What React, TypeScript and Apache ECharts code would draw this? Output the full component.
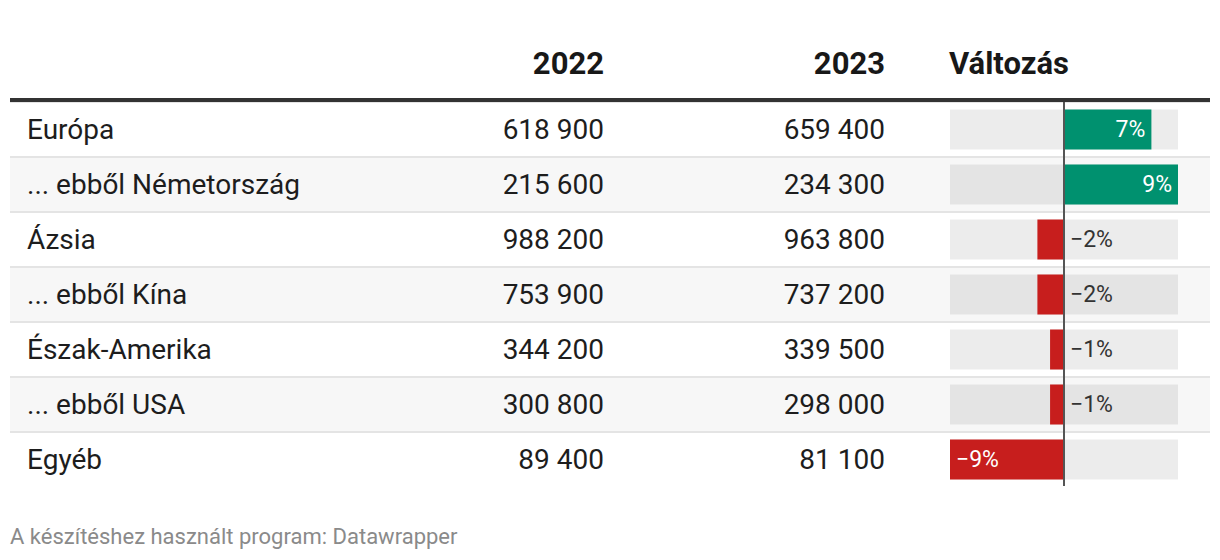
import React, { useEffect, useRef } from "react";
import * as echarts from "echarts";

const rowNames = [
  "Európa",
  "... ebből Németország",
  "Ázsia",
  "... ebből Kína",
  "Észak-Amerika",
  "... ebből USA",
  "Egyéb",
];
const values2022 = [618900, 215600, 988200, 753900, 344200, 300800, 89400];
const values2023 = [659400, 234300, 963800, 737200, 339500, 298000, 81100];
const changePct = [6.9, 9.0, -2.1, -2.1, -1.1, -1.1, -9.0];
const columnHeaders = ["2022", "2023", "Változás"];
const footerText = "A készítéshez használt program: Datawrapper";

const FONT = "Roboto, 'Noto Sans', sans-serif";
const TOP = 102;
const HEIGHT = 385;

const fmtNum = (n: number) => String(n).replace(/\B(?=(\d{3})+(?!\d))/g, " ");
const fmtPct = (v: number) => {
  const r = Math.round(v);
  return (r < 0 ? "\u2212" + Math.abs(r) : String(r)) + "%";
};

export default function App() {
  const ref = useRef<HTMLDivElement>(null);
  useEffect(() => {
    if (!ref.current) return;
    const chart = echarts.init(ref.current, null, { renderer: "svg" });
    const hiddenX = (gridIndex: number, min: number, max: number) => ({
      type: "value",
      gridIndex,
      min,
      max,
      show: false,
    });
    const textYAxis = (gridIndex: number, data: string[], position: string, margin: number) => ({
      type: "category",
      gridIndex,
      inverse: true,
      position,
      data,
      axisLine: { show: false },
      axisTick: { show: false },
      axisLabel: {
        inside: true,
        margin,
        fontFamily: FONT,
        fontSize: 28,
        color: "#1d1d1d",
      },
      splitLine: { show: false },
      splitArea: { show: false },
    });

    const barData = changePct.map((v) => {
      const big = Math.abs(v) >= 4;
      return {
        value: v,
        itemStyle: { color: v >= 0 ? "#00916f" : "#c71e1d" },
        label: {
          show: true,
          position: big ? (v >= 0 ? "insideRight" : "insideLeft") : v >= 0 ? "left" : "right",
          distance: 6,
          color: big ? "#ffffff" : "#333333",
          fontFamily: FONT,
          fontSize: 23,
          formatter: () => fmtPct(v),
        },
      };
    });

    const yNames = textYAxis(0, rowNames, "left", 17) as any;
    yNames.splitArea = { show: true, areaStyle: { color: ["#ffffff", "#f7f7f7"] } };
    yNames.splitLine = {
      show: true,
      lineStyle: { color: "#e4e4e4", width: 2 },
    };

    const headerFont = `bold 31px ${FONT}`;

    chart.setOption({
      animation: false,
      backgroundColor: "#ffffff",
      grid: [
        { left: 10, top: TOP, width: 1200, height: HEIGHT },
        { left: 10, top: TOP, width: 594, height: HEIGHT },
        { left: 610, top: TOP, width: 275, height: HEIGHT },
        { left: 950, top: TOP, width: 228, height: HEIGHT },
      ],
      xAxis: [hiddenX(0, 0, 1), hiddenX(1, 0, 1), hiddenX(2, 0, 1), hiddenX(3, -9, 9)],
      yAxis: [
        yNames,
        textYAxis(1, values2022.map(fmtNum), "right", 0),
        textYAxis(2, values2023.map(fmtNum), "right", 0),
        {
          type: "category",
          gridIndex: 3,
          inverse: true,
          data: rowNames,
          show: false,
        },
      ],
      series: [
        {
          type: "bar",
          xAxisIndex: 3,
          yAxisIndex: 3,
          barWidth: 40,
          showBackground: true,
          backgroundStyle: { color: "rgba(0,0,0,0.075)" },
          data: barData,
          markLine: {
            silent: true,
            symbol: ["none", "none"],
            label: { show: false },
            lineStyle: { color: "#555555", width: 2, type: "solid" },
            data: [{ xAxis: 0 }],
          },
        },
      ],
      graphic: [
        {
          type: "rect",
          shape: { x: 0, y: 486, width: 1220, height: 4 },
          style: { fill: "#ffffff" },
          z: 100,
        },
        {
          type: "rect",
          shape: { x: 10, y: 98, width: 1200, height: 4 },
          style: { fill: "#333333" },
          z: 100,
        },
        {
          type: "text",
          x: 604,
          y: 63,
          style: {
            text: columnHeaders[0],
            align: "right",
            verticalAlign: "middle",
            font: headerFont,
            fill: "#181818",
          },
        },
        {
          type: "text",
          x: 885,
          y: 63,
          style: {
            text: columnHeaders[1],
            align: "right",
            verticalAlign: "middle",
            font: headerFont,
            fill: "#181818",
          },
        },
        {
          type: "text",
          x: 949,
          y: 63,
          style: {
            text: columnHeaders[2],
            align: "left",
            verticalAlign: "middle",
            font: headerFont,
            fill: "#181818",
          },
        },
        {
          type: "text",
          x: 10,
          y: 536,
          style: {
            text: footerText,
            align: "left",
            verticalAlign: "middle",
            font: `22px ${FONT}`,
            fill: "#8a8a8a",
          },
        },
      ],
    });
    return () => chart.dispose();
  }, []);
  return <div ref={ref} style={{ width: 1220, height: 560, position: "absolute", left: 0, top: 0 }} />;
}
